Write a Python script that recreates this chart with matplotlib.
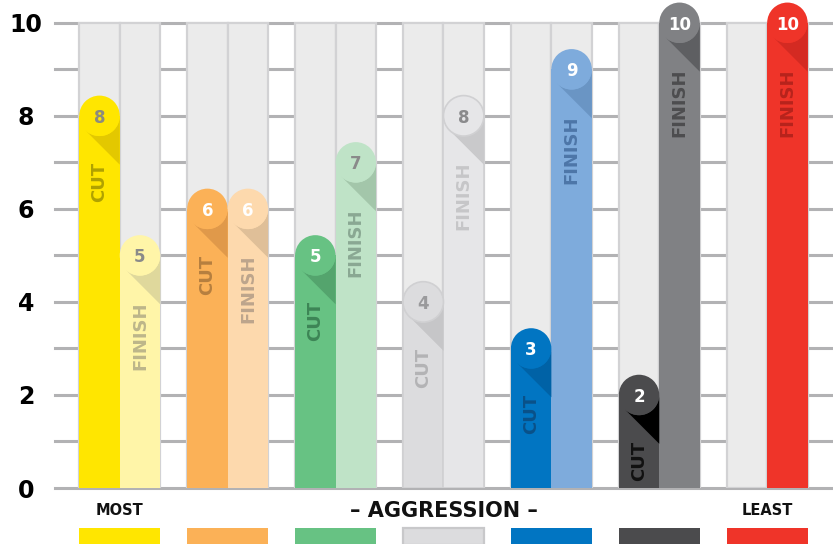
import matplotlib.pyplot as plt
import numpy as np
from matplotlib.patches import Ellipse, Polygon, Rectangle

plt.rcParams["font.family"] = ["DejaVu Sans"]
plt.rcParams["font.weight"] = "bold"

# data
groups = np.arange(7)
cut = [8, 6, 5, 4, 3, 2, 0]
finish = [5, 6, 7, 8, 9, 10, 10]
yticks = [0, 2, 4, 6, 8, 10]
bottom_labels = ["MOST", "– AGGRESSION –", "LEAST"]
bottom_pos = [0, 3, 6]

# styles
cut_colors = ["#ffe600", "#fbb157", "#67c283", "#dcdcde", "#0175c2", "#4b4b4d", "#ebebeb"]
finish_colors = ["#fff5a8", "#fdd9ad", "#bfe3c7", "#e6e6e8", "#7eabdc", "#808184", "#ef3429"]
cut_shadow = ["#e3c800", "#e0994a", "#54a46d", "#c6c6c8", "#0062a6", "#000000", "#ebebeb"]
finish_shadow = ["#dfd89c", "#dfbf98", "#a3c6aa", "#c9c9cb", "#6a95c4", "#5e5f62", "#d42a22"]
cut_text = ["#b0a200", "#b67f3f", "#3d8556", "#b3b3b5", "#0a5189", "#111111", "#ebebeb"]
finish_text = ["#bdb68a", "#bda58c", "#8aa893", "#c6c6c8", "#4d76a8", "#4d4d4f", "#b7231c"]
cut_num = ["#8c8b7e", "white", "white", "#9a9a9c", "white", "white", "white"]
finish_num = ["#8a8a8a", "white", "#8a8a8a", "#8a8a8c", "white", "white", "white"]
swatch_colors = ["#ffe600", "#fbb157", "#67c283", "#dcdcde", "#0175c2", "#4b4b4d", "#ef3429"]

fig = plt.figure(figsize=(8.33, 5.44), dpi=100)
ax = fig.add_axes([55 / 833, 56 / 544, 778 / 833, 488 / 544])
ax.set_xlim(-0.6, 6.61)
ax.set_ylim(0, 10.49)
for s in ax.spines.values():
    s.set_visible(False)

w = 0.375
for y in range(11):
    ax.axhline(y, color="#b2b2b4", lw=2.2, zorder=0, clip_on=False)

# background columns
for off in (-w / 2, w / 2):
    ax.bar(groups + off, 10, width=w, color="#ebebeb", edgecolor="#d2d2d4", lw=1.6, zorder=1)

# pixel scale, to draw round caps
p0 = ax.transData.transform((0, 0))
p1 = ax.transData.transform((1, 1))
sx, sy = p1 - p0
rx = w / 2
ry = rx * sx / sy
s2 = np.sqrt(0.5)


def draw_bars(xs, vals, colors, shadows, tcolors, ncolors, label):
    edges = ["#d0d0d2" if c in ("#dcdcde", "#e6e6e8") else "none" for c in colors]
    ax.bar(xs, vals, width=w, color=colors, edgecolor=edges, lw=1.2, zorder=2)
    for x, v, c, sh, tc, nc, ec in zip(xs, vals, colors, shadows, tcolors, ncolors, edges):
        if v <= 0:
            continue
        ang = np.linspace(0, -3 * np.pi / 4, 30)
        pts = [(x + rx * np.cos(a), v + ry * np.sin(a)) for a in ang]
        pts.append((x + rx, v - ry * (1 + 2 * s2)))
        ax.add_patch(Polygon(pts, closed=True, color=sh, lw=0, zorder=3))
        ax.add_patch(Ellipse((x, v), 2 * rx, 2 * ry, facecolor=c, edgecolor=ec, lw=1.2, zorder=4))
        ax.text(x, v, str(v), ha="center", va="center_baseline", fontsize=12,
                color=nc, fontweight="bold", zorder=5)
        ax.annotate(label, (x, v), xytext=(0, -33), textcoords="offset points",
                    rotation=90, ha="center", va="top", fontsize=13,
                    color=tc, fontweight="bold", zorder=5)


draw_bars(groups - w / 2, cut, cut_colors, cut_shadow, cut_text, cut_num, "CUT")
draw_bars(groups + w / 2, finish, finish_colors, finish_shadow, finish_text, finish_num, "FINISH")

# bottom labels and swatches
for lab, g in zip(bottom_labels, bottom_pos):
    ax.text(g, -0.49, lab, ha="center", va="center", fontsize=15 if g == 3 else 10.5,
            fontweight="bold", color="#111111", clip_on=False)
for g, c in zip(groups, swatch_colors):
    ec = "#c8c8ca" if c == "#dcdcde" else "none"
    ax.add_patch(Rectangle((g - w, -1.22), 2 * w, 0.36, facecolor=c, edgecolor=ec,
                           lw=1.6, clip_on=False))

ax.set_xticks([])
ax.set_yticks(yticks)
ax.set_yticklabels([str(t) for t in yticks], fontsize=17, fontweight="bold")
ax.tick_params(axis="y", length=0, pad=21)
for lab in ax.get_yticklabels():
    lab.set_ha("center")

plt.savefig("out.png", dpi=100)
